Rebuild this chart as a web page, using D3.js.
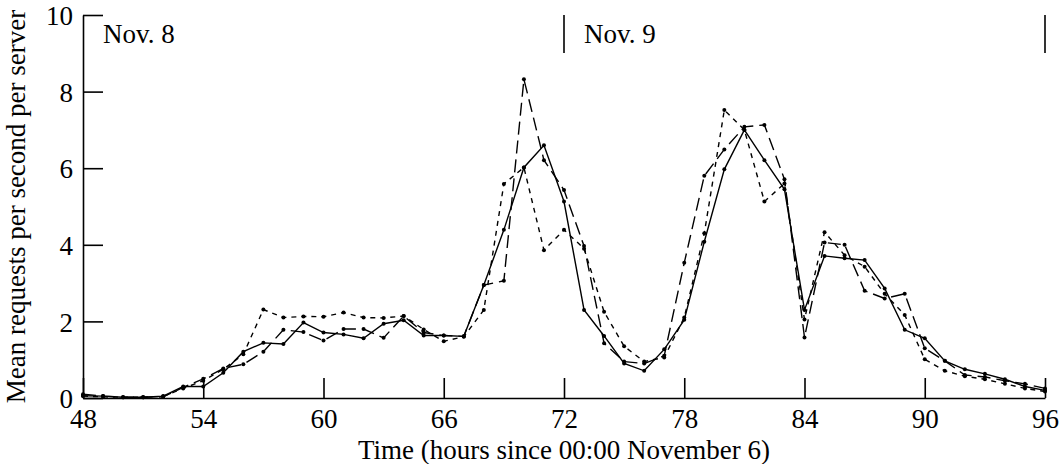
<!DOCTYPE html>
<html>
<head>
<meta charset="utf-8">
<script src="https://cdn.jsdelivr.net/npm/d3@7"></script>
<style>
  body { margin: 0; background: #fff; }
  svg { display: block; }
  text { font-family: "Liberation Serif", "Times New Roman", serif; fill: #000; }
</style>
</head>
<body>
<svg id="chart" width="1061" height="464"></svg>
<script>
// Hourly samples, hours since 00:00 November 6
const hours = d3.range(48, 97);

// Mean requests per second per server, one array per trace
const solidSeries = [
  0.06, 0.05, 0.02, 0.02, 0.05, 0.30, 0.30, 0.66, 1.21, 1.44,
  1.41, 1.97, 1.71, 1.66, 1.56, 1.94, 2.03, 1.63, 1.63, 1.61,
  2.95, 4.39, 6.02, 6.60, 5.13, 2.30, 1.62, 0.90, 0.71, 1.27,
  2.04, 4.08, 5.97, 7.00, 6.21, 5.45, 2.30, 3.71, 3.65, 3.60,
  2.86, 1.78, 1.56, 0.97, 0.75, 0.63, 0.49, 0.30, 0.20
];
const longDashSeries = [
  0.10, 0.05, 0.02, 0.02, 0.03, 0.28, 0.50, 0.77, 0.88, 1.21,
  1.78, 1.72, 1.50, 1.80, 1.80, 1.57, 2.14, 1.71, 1.63, 1.61,
  2.95, 3.06, 8.32, 6.21, 5.43, 3.97, 1.43, 0.95, 0.90, 1.10,
  3.53, 5.80, 6.49, 7.08, 7.13, 5.71, 1.58, 4.06, 4.00, 2.80,
  2.60, 2.72, 1.30, 0.97, 0.60, 0.55, 0.45, 0.37, 0.25
];
const shortDashSeries = [
  0.05, 0.03, 0.02, 0.02, 0.04, 0.25, 0.45, 0.75, 1.14, 2.31,
  2.10, 2.13, 2.12, 2.23, 2.10, 2.09, 2.14, 1.79, 1.48, 1.60,
  2.30, 5.59, 6.02, 3.86, 4.39, 3.90, 2.25, 1.35, 0.95, 1.06,
  2.10, 4.30, 7.52, 7.00, 5.13, 5.60, 2.05, 4.33, 3.73, 3.43,
  2.72, 2.17, 1.01, 0.71, 0.57, 0.49, 0.37, 0.25, 0.17
];

const xTicks = [48, 54, 60, 66, 72, 78, 84, 90, 96];
const yTicks = [0, 2, 4, 6, 8, 10];
const dayStarts = [48, 72, 96];
const dayLabels = ["Nov. 8", "Nov. 9"];

const svg = d3.select("#chart");
const x = d3.scaleLinear().domain([48, 96]).range([83, 1045]);
const y = d3.scaleLinear().domain([0, 10]).range([398, 15]);
const FONT = 27;

// Axes with inward-pointing ticks
const gx = svg.append("g").attr("transform", `translate(0,${y(0)})`)
  .call(d3.axisBottom(x).tickValues(xTicks).tickSizeInner(-20).tickSizeOuter(0).tickPadding(11));
const gy = svg.append("g").attr("transform", `translate(${x(48)},0)`)
  .call(d3.axisLeft(y).tickValues(yTicks).tickSizeInner(-20).tickSizeOuter(0).tickPadding(10));
[gx, gy].forEach(g => {
  g.selectAll("path.domain").attr("stroke", "#000").attr("stroke-width", 1.6);
  g.selectAll(".tick line").attr("stroke", "#000").attr("stroke-width", 1.6);
  g.selectAll(".tick text").style("font-size", FONT + "px")
    .style("font-family", '"Liberation Serif", "Times New Roman", serif').attr("fill", "#000");
});
gy.selectAll(".tick text").attr("dy", "0.36em");

// Day boundary markers along the top
svg.append("g").selectAll("line").data(dayStarts.slice(1)).join("line")
  .attr("x1", d => x(d)).attr("x2", d => x(d))
  .attr("y1", y(10)).attr("y2", y(10) + 38)
  .attr("stroke", "#000").attr("stroke-width", 1.6);
svg.append("g").selectAll("text").data(dayLabels).join("text")
  .attr("x", (d, i) => x(dayStarts[i]) + 20)
  .attr("y", 43)
  .style("font-size", FONT + "px")
  .text(d => d);

// Axis titles
svg.append("text")
  .attr("x", (x(48) + x(96)) / 2).attr("y", 459)
  .attr("text-anchor", "middle").style("font-size", FONT + "px")
  .text("Time (hours since 00:00 November 6)");
svg.append("text")
  .attr("transform", `translate(25,${(y(0) + y(10)) / 2}) rotate(-90)`)
  .attr("text-anchor", "middle").style("font-size", FONT + "px")
  .text("Mean requests per second per server");

// Traces
const traces = [
  { values: solidSeries, dash: null },
  { values: longDashSeries, dash: "13,6" },
  { values: shortDashSeries, dash: "5,5" }
];
const line = d3.line().x(d => x(d.h)).y(d => y(d.v));
traces.forEach(t => {
  const pts = hours.map((h, i) => ({ h, v: t.values[i] }));
  const g = svg.append("g");
  g.append("path").datum(pts).attr("d", line)
    .attr("fill", "none").attr("stroke", "#000").attr("stroke-width", 1.4)
    .attr("stroke-dasharray", t.dash);
  g.selectAll("circle").data(pts).join("circle")
    .attr("cx", d => x(d.h)).attr("cy", d => y(d.v)).attr("r", 2)
    .attr("fill", "#000");
});
</script>
</body>
</html>
